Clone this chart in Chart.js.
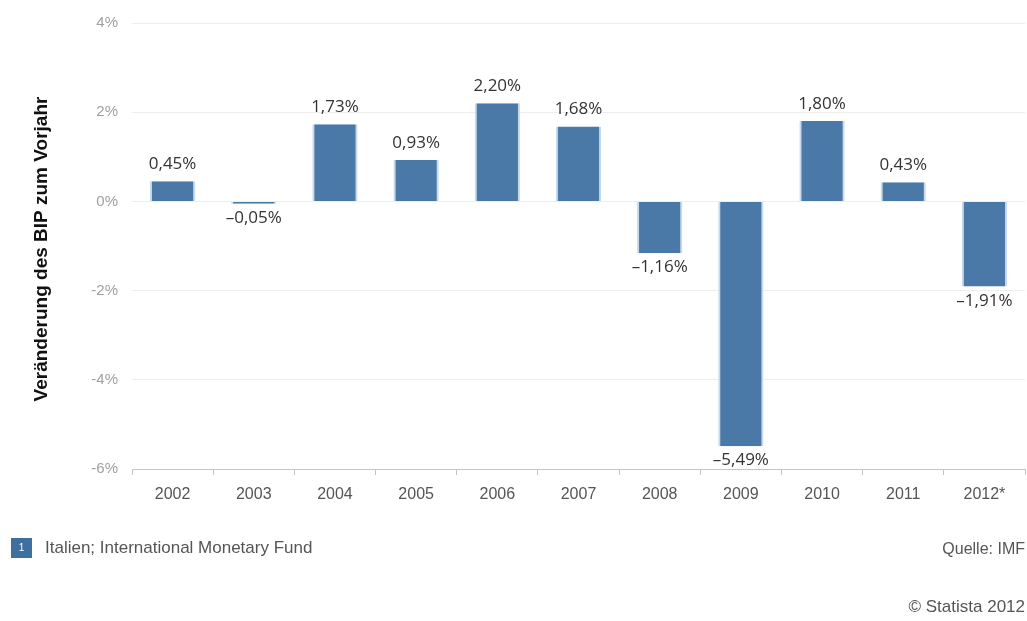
<!DOCTYPE html>
<html lang="de">
<head>
  <meta charset="UTF-8" />
  <title>Italien BIP Veränderung</title>
  <script src="https://cdn.jsdelivr.net/npm/chart.js"></script>
  <style>
    html, body { margin: 0; padding: 0; background: #fff; }
    #wrap { position: relative; width: 1027px; height: 621px; }
  </style>
</head>
<body>
  <div id="wrap"><canvas id="gdpChart" width="1027" height="621"></canvas></div>
  <script>
    const years = ['2002', '2003', '2004', '2005', '2006', '2007', '2008', '2009', '2010', '2011', '2012*'];
    const gdpChange = [0.45, -0.05, 1.73, 0.93, 2.20, 1.68, -1.16, -5.49, 1.80, 0.43, -1.91];
    const yTicks = [4, 2, 0, -2, -4, -6];

    const fmt = v => v.toFixed(2).replace('.', ',').replace('-', '\u2013') + '%';

    // labels on bars plus the texts around the plot
    const extras = {
      id: 'extras',
      afterDatasetsDraw(chart) {
        const ctx = chart.ctx;
        const meta = chart.getDatasetMeta(0);
        ctx.save();
        ctx.font = '17px "Open Sans", sans-serif';
        ctx.fillStyle = '#333';
        ctx.textAlign = 'center';
        ctx.textBaseline = 'alphabetic';
        meta.data.forEach((bar, i) => {
          const v = gdpChange[i];
          if (v >= 0) {
            ctx.fillText(fmt(v), bar.x, bar.y - 12);
          } else {
            ctx.fillText(fmt(v), bar.x, bar.y + 19);
          }
        });
        ctx.restore();
      },
      afterDraw(chart) {
        const ctx = chart.ctx;
        ctx.save();
        // axis title
        ctx.translate(42, 249);
        ctx.rotate(-Math.PI / 2);
        ctx.font = 'bold 19px "Liberation Sans", Arial, sans-serif';
        ctx.fillStyle = '#111';
        ctx.textAlign = 'center';
        ctx.textBaseline = 'middle';
        ctx.fillText('Veränderung des BIP zum Vorjahr', 0, 0);
        ctx.restore();

        ctx.save();
        // legend box
        ctx.fillStyle = '#3f6f9e';
        ctx.fillRect(11, 538, 21, 20);
        ctx.fillStyle = '#fff';
        ctx.font = '10px "Liberation Sans", Arial, sans-serif';
        ctx.textAlign = 'center';
        ctx.textBaseline = 'middle';
        ctx.fillText('1', 21.5, 548);
        ctx.fillStyle = '#555';
        ctx.font = '17px "Liberation Sans", Arial, sans-serif';
        ctx.textAlign = 'left';
        ctx.fillText('Italien; International Monetary Fund', 45, 548);
        ctx.textAlign = 'right';
        ctx.font = '16px "Liberation Sans", Arial, sans-serif';
        ctx.fillText('Quelle: IMF', 1025, 550);
        ctx.font = '17px "Liberation Sans", Arial, sans-serif';
        ctx.fillText('\u00a9 Statista 2012', 1025, 607);
        ctx.restore();
      }
    };

    new Chart(document.getElementById('gdpChart'), {
      type: 'bar',
      data: {
        labels: years,
        datasets: [{
          data: gdpChange,
          backgroundColor: '#4a79a7',
          borderColor: '#c8daea',
          borderWidth: { top: 0, left: 2, right: 2, bottom: 0 },
          borderSkipped: false,
          barPercentage: 0.62,
          categoryPercentage: 0.9
        }]
      },
      options: {
        responsive: false,
        animation: false,
        layout: { padding: { left: 0, right: 2, top: 20, bottom: 112 } },
        plugins: { legend: { display: false }, tooltip: { enabled: false } },
        scales: {
          x: {
            afterFit(axis) { axis.height = 40; },
            grid: {
              offset: true,
              drawOnChartArea: false,
              drawTicks: true,
              tickLength: 6,
              color: '#c4c4c4'
            },
            border: { color: '#c4c4c4' },
            ticks: {
              color: '#555',
              font: { family: '"Liberation Sans", Arial, sans-serif', size: 16 },
              padding: 10
            }
          },
          y: {
            min: -6,
            max: 4,
            afterFit(axis) { axis.width = 132; },
            afterBuildTicks(axis) { axis.ticks = yTicks.map(v => ({ value: v })); },
            grid: { color: '#eeeeee', drawTicks: false },
            border: { display: false },
            ticks: {
              color: '#a0a0a0',
              padding: 14,
              font: { family: '"Liberation Sans", Arial, sans-serif', size: 15 },
              callback: v => (v < 0 ? '-' + Math.abs(v) : v) + '%'
            }
          }
        }
      },
      plugins: [extras]
    });
  </script>
</body>
</html>
